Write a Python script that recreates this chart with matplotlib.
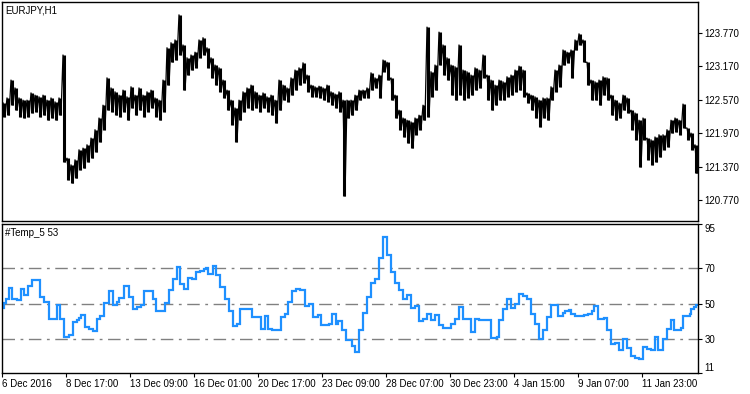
import numpy as np
import matplotlib.pyplot as plt

plt.rcParams['font.family'] = ['Liberation Sans', 'DejaVu Sans']

# EURJPY H1, grouped by 4 bars: high / low of each group
price_high = [
    122.51, 122.60, 122.92, 122.78, 122.60, 122.56, 122.56, 122.69, 122.65, 122.62,
    122.65, 122.56, 122.60, 122.53, 122.60, 123.37, 121.52, 121.40, 121.49, 121.67,
    121.70, 121.76, 121.88, 122.03, 122.24, 122.47, 122.96, 122.78, 122.71, 122.65,
    122.74, 122.62, 122.80, 122.65, 122.78, 122.65, 122.71, 122.74, 122.60, 122.56,
    122.92, 123.50, 123.59, 123.64, 124.09, 123.55, 123.32, 123.37, 123.42, 123.64,
    123.68, 123.50, 123.32, 123.19, 123.14, 122.92, 122.74, 122.56, 122.42, 122.56,
    122.71, 122.78, 122.83, 122.71, 122.65, 122.69, 122.62, 122.65, 122.56, 122.92,
    122.83, 122.78, 122.96, 123.10, 123.14, 123.23, 123.01, 122.83, 122.80, 122.81,
    122.78, 122.83, 122.71, 122.67, 122.71, 122.56, 122.56, 122.56, 122.65, 122.74,
    122.74, 122.78, 123.05, 122.96, 123.01, 123.28, 123.24, 122.96, 122.65, 122.38,
    122.24, 122.20, 122.17, 122.24, 122.29, 122.47, 123.87, 123.07, 123.19, 123.78,
    123.55, 123.32, 123.19, 123.16, 123.55, 123.10, 123.07, 123.01, 123.14, 123.10,
    123.37, 123.01, 122.92, 122.83, 122.92, 122.89, 122.98, 123.01, 123.10, 123.17,
    123.10, 122.69, 122.65, 122.62, 122.56, 122.60, 122.60, 122.80, 123.10, 123.19,
    123.46, 123.42, 123.46, 123.64, 123.75, 123.64, 123.24, 122.92, 122.89, 122.92,
    122.98, 122.96, 122.65, 122.56, 122.51, 122.65, 122.60, 122.38, 122.33, 122.20,
    122.24, 121.88, 121.85, 121.90, 121.94, 121.94, 122.03, 122.20, 122.24, 122.20,
    122.49, 122.06, 121.97, 121.76,
]
price_low = [
    122.26, 122.29, 122.47, 122.38, 122.26, 122.24, 122.26, 122.33, 122.35, 122.26,
    122.29, 122.20, 122.24, 122.20, 122.29, 121.45, 121.13, 121.07, 121.16, 121.31,
    121.34, 121.45, 121.52, 121.63, 121.81, 122.03, 122.38, 122.35, 122.29, 122.26,
    122.35, 122.20, 122.42, 122.29, 122.38, 122.26, 122.35, 122.42, 122.26, 122.20,
    122.35, 122.83, 123.24, 123.28, 123.37, 122.74, 123.01, 123.10, 123.14, 123.32,
    123.37, 123.14, 122.96, 122.83, 122.71, 122.60, 122.38, 122.12, 121.81, 122.20,
    122.35, 122.42, 122.38, 122.42, 122.35, 122.42, 122.35, 122.29, 122.15, 122.38,
    122.56, 122.53, 122.65, 122.74, 122.83, 122.87, 122.71, 122.62, 122.62, 122.60,
    122.56, 122.53, 122.47, 122.42, 122.35, 120.84, 122.24, 122.29, 122.38, 122.56,
    122.60, 122.60, 122.74, 122.78, 122.60, 123.07, 122.92, 122.56, 122.24, 122.03,
    121.90, 121.79, 121.70, 121.94, 122.03, 122.20, 122.26, 122.62, 122.74, 123.19,
    123.01, 122.92, 122.65, 122.56, 122.65, 122.56, 122.60, 122.65, 122.74, 122.78,
    122.96, 122.56, 122.38, 122.47, 122.56, 122.56, 122.62, 122.65, 122.71, 122.74,
    122.62, 122.51, 122.38, 122.24, 122.08, 122.24, 122.20, 122.56, 122.71, 122.80,
    123.19, 123.23, 122.96, 123.46, 123.55, 123.24, 122.83, 122.56, 122.56, 122.47,
    122.65, 122.56, 122.29, 122.20, 122.24, 122.38, 122.33, 122.03, 121.85, 121.36,
    121.85, 121.49, 121.40, 121.45, 121.54, 121.67, 121.72, 121.97, 121.99, 121.94,
    122.06, 121.85, 121.67, 121.25,
]
bars_per_group = 4

# #Temp_5 indicator: bar index where the level changes, and the level
temp_bar = [
    0, 2, 4, 7, 10, 15, 19, 22, 26, 30, 38, 42, 47, 55, 58, 62, 67, 71, 75, 77,
    79, 83, 87, 91, 95, 98, 102, 107, 111, 115, 117, 122, 127, 131, 135, 139, 142, 151, 154, 163,
    167, 171, 175, 178, 182, 186, 190, 194, 198, 202, 204, 206, 211, 214, 218, 223, 227, 231, 235, 238,
    250, 256, 259, 263, 266, 270, 279, 283, 286, 290, 294, 298, 303, 307, 311, 316, 319, 327, 330, 334,
    336, 340, 344, 350, 353, 357, 361, 365, 369, 373, 377, 381, 385, 389, 393, 397, 401, 405, 409, 413,
    417, 421, 425, 429, 433, 437, 441, 449, 453, 457, 461, 467, 469, 473, 477, 489, 495, 497, 501, 505,
    509, 513, 517, 521, 525, 529, 533, 537, 541, 545, 549, 553, 556, 561, 563, 567, 569, 573, 582, 586,
    590, 592, 596, 602, 605, 609, 613, 617, 621, 625, 629, 633, 637, 641, 645, 649, 653, 656, 661, 665,
    669, 672, 679, 681, 688, 689, 692, 694,
]
temp_value = [
    47.4, 50.2, 52.5, 58.9, 52.5, 51.9, 58.1, 54.9, 60.2, 63.4, 54.0, 50.8, 41.7, 49.6, 41.7, 31.3, 32.5, 39.8, 41.1, 41.9,
    43.8, 37.0, 35.8, 34.9, 41.3, 43.4, 50.2, 57.0, 49.2, 50.9, 53.2, 60.0, 54.0, 46.8, 48.3, 49.6, 57.4, 52.6, 45.7, 50.2,
    57.7, 63.8, 70.5, 61.1, 58.3, 64.3, 63.8, 68.1, 68.7, 69.4, 70.2, 66.6, 71.5, 66.2, 59.6, 52.5, 45.7, 37.7, 38.9, 46.8,
    42.3, 42.6, 35.7, 43.0, 35.7, 35.1, 42.3, 44.2, 50.8, 57.4, 58.1, 57.7, 48.7, 49.8, 42.8, 43.8, 37.9, 38.9, 44.2, 38.5,
    40.4, 35.1, 29.8, 26.4, 22.6, 35.1, 44.9, 53.6, 61.9, 64.2, 75.7, 87.9, 77.4, 68.1, 61.9, 57.7, 52.5, 54.7, 47.4, 48.9,
    40.4, 41.5, 44.2, 41.1, 43.6, 37.9, 36.2, 38.9, 41.5, 48.1, 41.3, 41.7, 34.0, 41.7, 40.8, 30.6, 31.3, 40.8, 47.2, 52.5,
    47.9, 49.8, 55.5, 54.5, 53.0, 44.5, 38.9, 30.4, 35.5, 42.6, 49.1, 49.6, 43.4, 44.9, 45.7, 46.4, 44.2, 43.0, 43.6, 44.5,
    45.7, 48.7, 41.7, 42.1, 35.5, 27.2, 28.1, 23.8, 30.4, 25.3, 20.4, 19.4, 18.7, 25.7, 24.7, 23.8, 31.3, 23.8, 30.0, 35.8,
    40.8, 35.5, 36.4, 43.2, 44.5, 47.2, 48.3, 49.4,
]
n_bars = 696
levels = [30, 50, 70]

price_ticks = [120.770, 121.370, 121.970, 122.570, 123.170, 123.770]
temp_ticks = [11, 30, 50, 70, 95]
date_ticks = [0, 64, 128, 192, 256, 320, 384, 448, 512, 576, 640]
date_labels = ['6 Dec 2016', '8 Dec 17:00', '13 Dec 09:00', '16 Dec 01:00', '20 Dec 17:00',
               '23 Dec 09:00', '28 Dec 07:00', '30 Dec 23:00', '4 Jan 15:00', '9 Jan 07:00',
               '11 Jan 23:00']

W, H = 750, 394
fig = plt.figure(figsize=(W / 100, H / 100), dpi=100)
ax1 = fig.add_axes([2 / W, 1 - 221 / H, 696 / W, 219 / H])
ax2 = fig.add_axes([2 / W, 1 - 373 / H, 696 / W, 149 / H])

# price panel: range strokes plus a zigzag high->low to look like dense H1 bars
xg = np.arange(len(price_high)) * bars_per_group + bars_per_group / 2
ax1.vlines(xg, price_low, price_high, color='black', lw=2.2)
zz_x = np.column_stack([xg - 1, xg + 1]).ravel()
zz_y = np.column_stack([price_high, price_low]).ravel()
ax1.plot(zz_x, zz_y, color='black', lw=0.9)
ax1.set_xlim(0, n_bars)
ax1.set_ylim(120.393, 124.32)
ax1.set_xticks([])
ax1.yaxis.tick_right()
ax1.set_yticks(price_ticks)
ax1.set_yticklabels(['%.3f' % t for t in price_ticks])
ax1.text(0.005, 0.985, 'EURJPY,H1', transform=ax1.transAxes, ha='left', va='top', fontsize=7)

# indicator panel
for lv in levels:
    ax2.axhline(lv, color='#808080', lw=1.0, dashes=(9, 4, 2, 4))
ax2.plot(temp_bar + [n_bars], temp_value + [temp_value[-1]], drawstyle='steps-post',
         color='#1E90FF', lw=1.6, solid_joinstyle='miter')
ax2.set_xlim(0, n_bars)
ax2.set_ylim(11, 95)
ax2.yaxis.tick_right()
ax2.set_yticks(temp_ticks)
ax2.set_yticklabels([str(t) for t in temp_ticks])
ylabs = ax2.get_yticklabels()
ylabs[0].set_va('bottom')
ylabs[-1].set_va('top')
ax2.set_xticks(date_ticks)
ax2.set_xticklabels(date_labels, ha='left')
ax2.text(0.005, 0.97, '#Temp_5 53', transform=ax2.transAxes, ha='left', va='top', fontsize=7)

for ax in (ax1, ax2):
    for s in ax.spines.values():
        s.set_linewidth(1.0)
        s.set_color('black')
    ax.tick_params(axis='both', direction='out', length=3, width=0.8, labelsize=7,
                   pad=1.5, colors='black')

fig.savefig('out.png', dpi=100)
